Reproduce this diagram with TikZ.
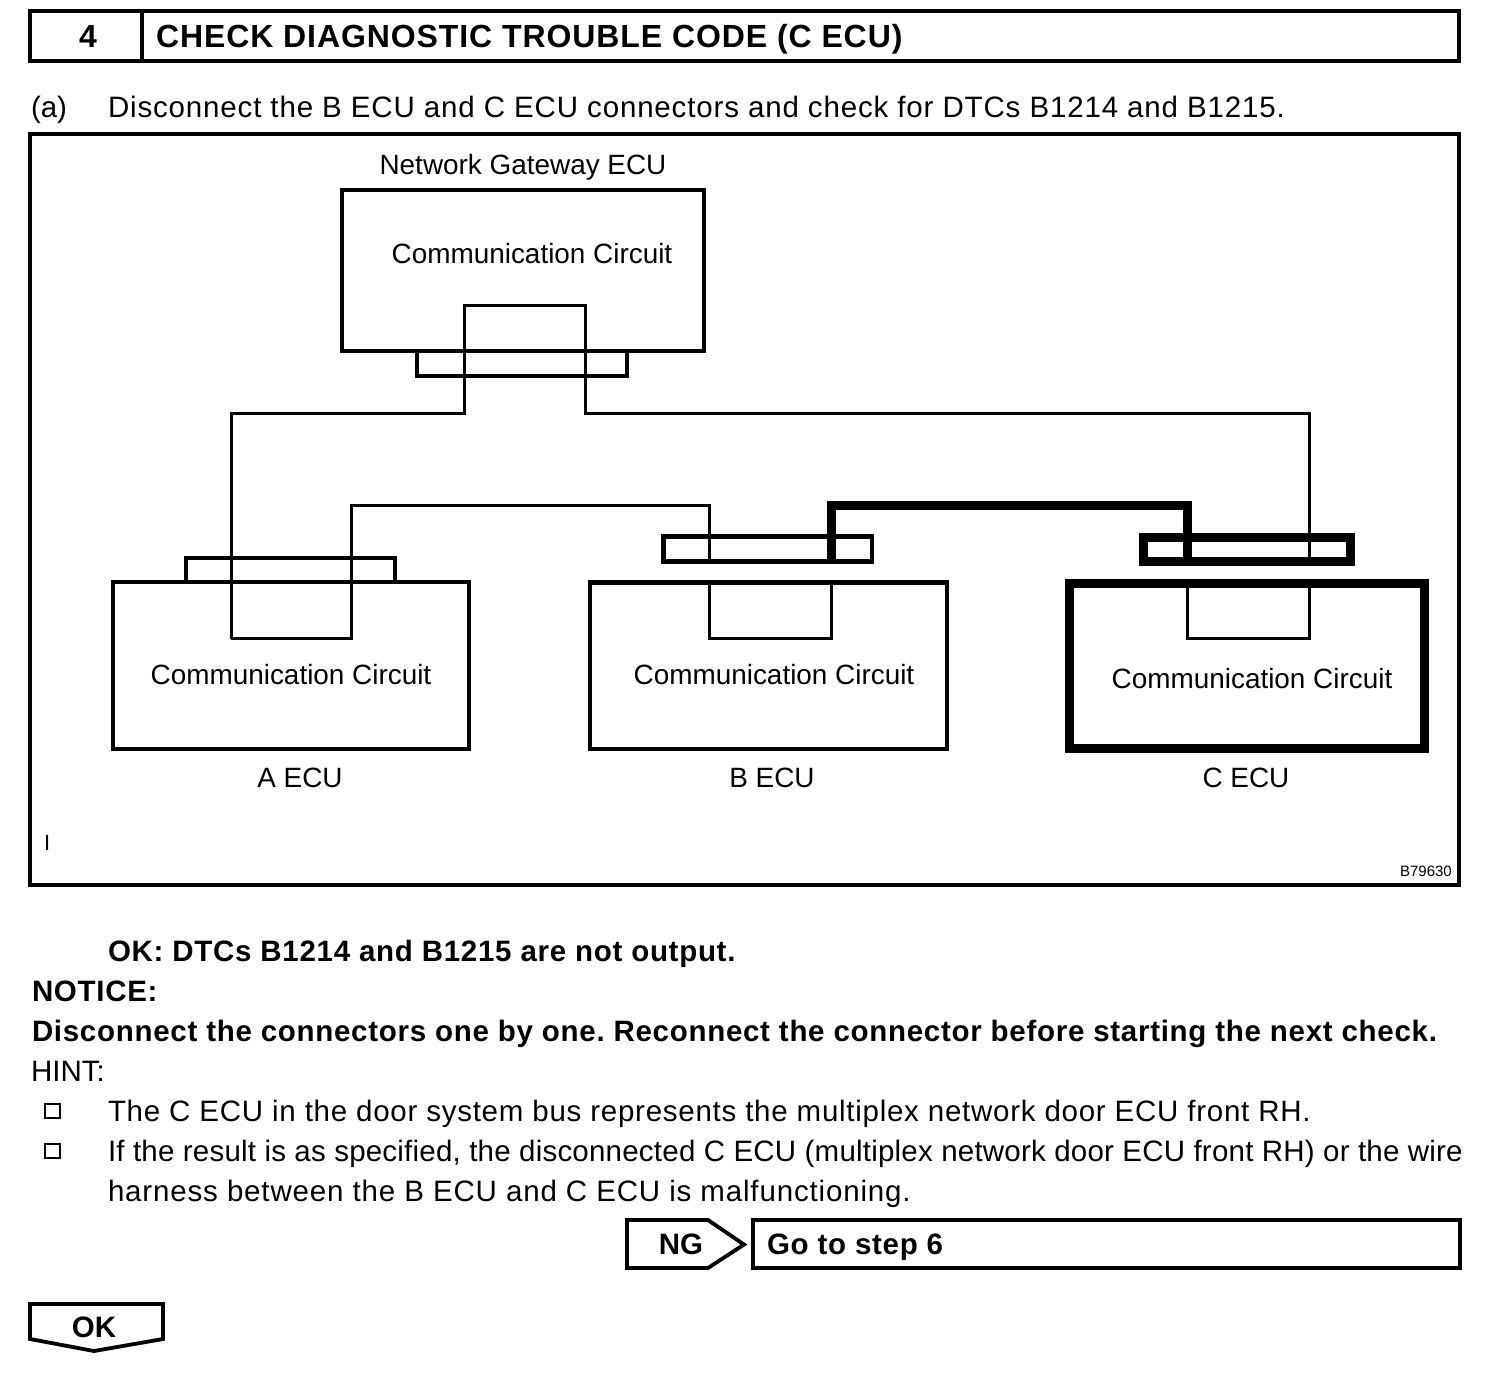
\documentclass[tikz,border=0pt]{standalone}
\usepackage{fontspec}
\setmainfont{Liberation Sans}
\newfontfamily\bodyf[LetterSpace=2.85]{Liberation Sans}
\newfontfamily\hone[LetterSpace=2.5]{Liberation Sans}
\newfontfamily\htwo[LetterSpace=0.75]{Liberation Sans}
\newfontfamily\boldf[LetterSpace=2.4,BoldFont={Liberation Sans Bold}]{Liberation Sans}
\newfontfamily\titlef[LetterSpace=2.85]{Liberation Sans}
\newcommand{\fs}[1]{\fontsize{#1}{#1}\selectfont}
\tikzset{x=1pt,y=-1pt,
 box/.style={draw=black,line width=4.5pt,line join=miter},
 pane/.style={draw=black,line width=3.8pt,line join=miter},
 wire/.style={draw=black,line width=3pt,line join=miter},
 heavy/.style={draw=black,line width=9pt,line join=miter},
 txt/.style={anchor=base west,inner sep=0pt,outer sep=0pt,font=\frenchspacing\bodyf\fs{29.5}},
 ctr/.style={anchor=base,inner sep=0pt,outer sep=0pt,font=\fs{27.9}},
 btxt/.style={txt,font=\frenchspacing\boldf\fs{29.5}\bfseries},
}
\begin{document}
\begin{tikzpicture}
\useasboundingbox (0,0) rectangle (1504,1390);
% header
\draw[pane] (30,11) rectangle (1459,61);
\draw[pane] (142,11) -- (142,61);
\node[ctr,font=\fs{32}\bfseries] (stepn) at (88,47) {4};
\node[btxt,font=\titlef\fs{32}\bfseries] (title) at (156,47) {CHECK DIAGNOSTIC TROUBLE CODE (C ECU)};
\node[txt,font=\fs{29.5}] (a) at (31,117) {(a)};
\node[txt] (al) at (108,117) {Disconnect the B ECU and C ECU connectors and check for DTCs B1214 and B1215.};
% frame
\draw[pane] (30,134) rectangle (1459,885);
\node[ctr] (gwl) at (523,174) {Network Gateway ECU};
% wires
\draw[wire] (231,638.5) -- (231,413) -- (464.5,413) -- (464.5,305) -- (585,305) -- (585,413) -- (1309.5,413) -- (1309.5,562);
\draw[wire] (231,638.5) -- (351,638.5) -- (351,505) -- (709.5,505) -- (709.5,562);
\draw[wire] (709.5,582) -- (709.5,638.5) -- (831,638.5) -- (831,582);
\draw[wire] (1309.5,582) -- (1309.5,638.5) -- (1187.5,638.5) -- (1187.5,582);
% boxes
\draw[box] (342,190) rectangle (704,351);
\draw[box] (417,351) rectangle (627,376);
\draw[box] (113,582) rectangle (469,749);
\draw[box] (186,558) rectangle (395,582);
\draw[box] (590,582.5) rectangle (947,749);
\draw[box] (663.5,536.5) rectangle (872,561.5);
\draw[heavy] (1069,583) rectangle (1424.5,748);
\draw[heavy] (1143,537) rectangle (1350.5,561.5);
\draw[heavy] (831,561.5) -- (831,505.5) -- (1187,505.5) -- (1187,561.5);
% labels
\node[ctr] (c0) at (532,263) {Communication Circuit};
\node[ctr] (c1) at (291,684) {Communication Circuit};
\node[ctr] (c2) at (774,684) {Communication Circuit};
\node[ctr] (c3) at (1252,688) {Communication Circuit};
\node[ctr] (l1) at (300,787) {A ECU};
\node[ctr] (l2) at (772,787) {B ECU};
\node[ctr] (l3) at (1246,787) {C ECU};
\node[txt,font=\fs{22}] (i) at (44,850) {I};
\node[anchor=base east,inner sep=0pt,font=\fs{15}] (code) at (1452,876) {B79630};
% body
\node[btxt] (ok) at (108,961) {OK: DTCs B1214 and B1215 are not output.};
\node[btxt] (nt) at (32,1001) {NOTICE:};
\node[btxt] (nb) at (32,1041) {Disconnect the connectors one by one. Reconnect the connector before starting the next check.};
\node[txt,font=\fs{29.5}] (h) at (31,1081) {HINT:};
\draw[line width=1.5pt] (45,1104) rectangle (60,1118);
\node[txt,font=\frenchspacing\hone\fs{29.5}] (h1) at (108,1121) {The C ECU in the door system bus represents the multiplex network door ECU front RH.};
\draw[line width=1.5pt] (45,1144) rectangle (60,1158);
\node[txt,font=\frenchspacing\htwo\fs{29.5}] (h2) at (108,1161) {If the result is as specified, the disconnected C ECU (multiplex network door ECU front RH) or the wire};
\node[txt] (h3) at (108,1201) {harness between the B ECU and C ECU is malfunctioning.};
% NG
\draw[pane] (627,1220) -- (708,1220) -- (744,1244.5) -- (708,1268) -- (627,1268) -- cycle;
\node[ctr,font=\fs{29.5}\bfseries] (ng) at (681,1254) {NG};
\draw[pane] (753,1220) rectangle (1460,1268);
\node[btxt] (go) at (767,1254) {Go to step 6};
% OK
\draw[pane] (30,1304) -- (163,1304) -- (163,1339) -- (94,1351) -- (30,1339) -- cycle;
\node[ctr,font=\fs{29.5}\bfseries] (okb) at (94,1337) {OK};
\end{tikzpicture}
\end{document}
